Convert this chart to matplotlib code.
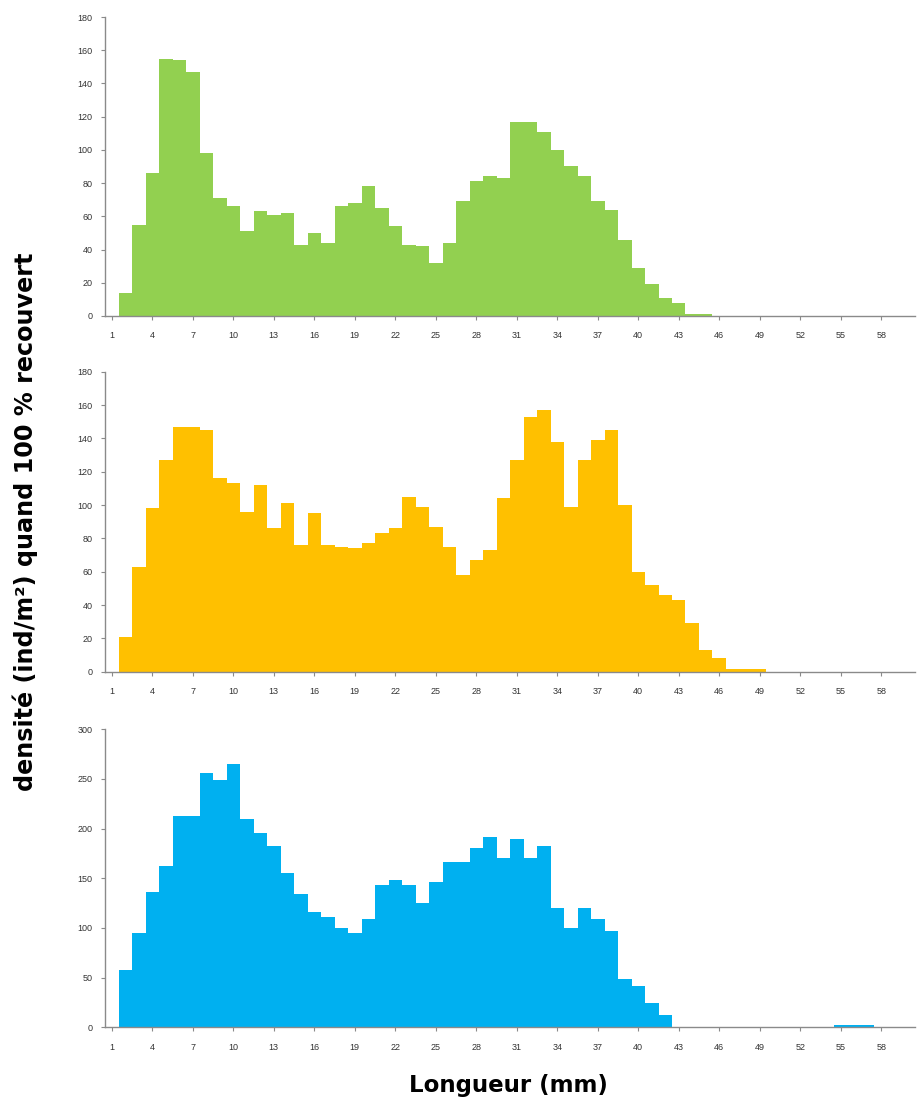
import numpy as np
import matplotlib.pyplot as plt

plt.rcParams["font.family"] = ["Liberation Sans", "DejaVu Sans"]

# --------------------------------------------------------------
# Data: density per 1 mm length class, three sampling dates
# --------------------------------------------------------------
lengths = list(range(1, 61))
tick_lengths = list(range(1, 61, 3))

dens_green = [0, 14, 55, 86, 155, 154, 147, 98, 71, 66,
              51, 63, 61, 62, 43, 50, 44, 66, 68, 78,
              65, 54, 43, 42, 32, 44, 69, 81, 84, 83,
              117, 117, 111, 100, 90, 84, 69, 64, 46, 29,
              19, 11, 8, 1, 1, 0, 0, 0, 0, 0,
              0, 0, 0, 0, 0, 0, 0, 0, 0, 0]

dens_yellow = [0, 21, 63, 98, 127, 147, 147, 145, 116, 113,
               96, 112, 86, 101, 76, 95, 76, 75, 74, 77,
               83, 86, 105, 99, 87, 75, 58, 67, 73, 104,
               127, 153, 157, 138, 99, 127, 139, 145, 100, 60,
               52, 46, 43, 29, 13, 8, 1.5, 1.5, 1.5, 0,
               0, 0, 0, 0, 0, 0, 0, 0, 0, 0]

dens_blue = [0, 58, 95, 136, 162, 213, 213, 256, 249, 265,
             210, 196, 182, 155, 134, 116, 111, 100, 95, 109,
             143, 148, 143, 125, 146, 166, 166, 180, 191, 170,
             189, 170, 182, 120, 100, 120, 109, 97, 49, 42,
             24, 12, 0, 0, 0, 0, 0, 0, 0, 0,
             0, 0, 0, 0, 2, 2, 2, 0, 0, 0]

panels = [
    (dens_green, "#92D050", 180, 20),
    (dens_yellow, "#FFC000", 180, 20),
    (dens_blue, "#00B0F0", 300, 50),
]

# axes boxes in figure fraction [left, bottom, width, height]
boxes = [
    [0.1139, 0.7138, 0.8785, 0.2708],
    [0.1139, 0.3916, 0.8785, 0.2717],
    [0.1139, 0.0695, 0.8785, 0.2700],
]

fig = plt.figure(figsize=(9.22, 11.04), dpi=100)

for (vals, color, ymax, ystep), box in zip(panels, boxes):
    ax = fig.add_axes(box)
    ax.bar(lengths, vals, width=1.0, color=color, linewidth=0)
    ax.set_xlim(0.5, 60.5)
    ax.set_ylim(0, ymax)
    ax.set_yticks(np.arange(0, ymax + 1, ystep))
    ax.set_xticks(tick_lengths)
    ax.set_xticklabels([str(t) for t in tick_lengths])
    for side in ["top", "right"]:
        ax.spines[side].set_visible(False)
    for side in ["left", "bottom"]:
        ax.spines[side].set_color("#8a8a8a")
        ax.spines[side].set_linewidth(1.0)
    ax.tick_params(axis="both", labelsize=6.5, labelcolor="#333333",
                   color="#8a8a8a", length=3, width=0.8, direction="out")
    ax.tick_params(axis="x", pad=8)
    ax.tick_params(axis="y", pad=6)

# axis titles
fig.text(0.027, 0.527, "densité (ind/m²) quand 100 % recouvert", rotation=90,
         ha="center", va="center", fontsize=17.2, fontweight="bold",
         family="DejaVu Sans")
fig.text(0.551, 0.017, "Longueur (mm)", ha="center", va="center",
         fontsize=16.5, fontweight="bold", family="DejaVu Sans")

fig.savefig("out.png", dpi=100)
